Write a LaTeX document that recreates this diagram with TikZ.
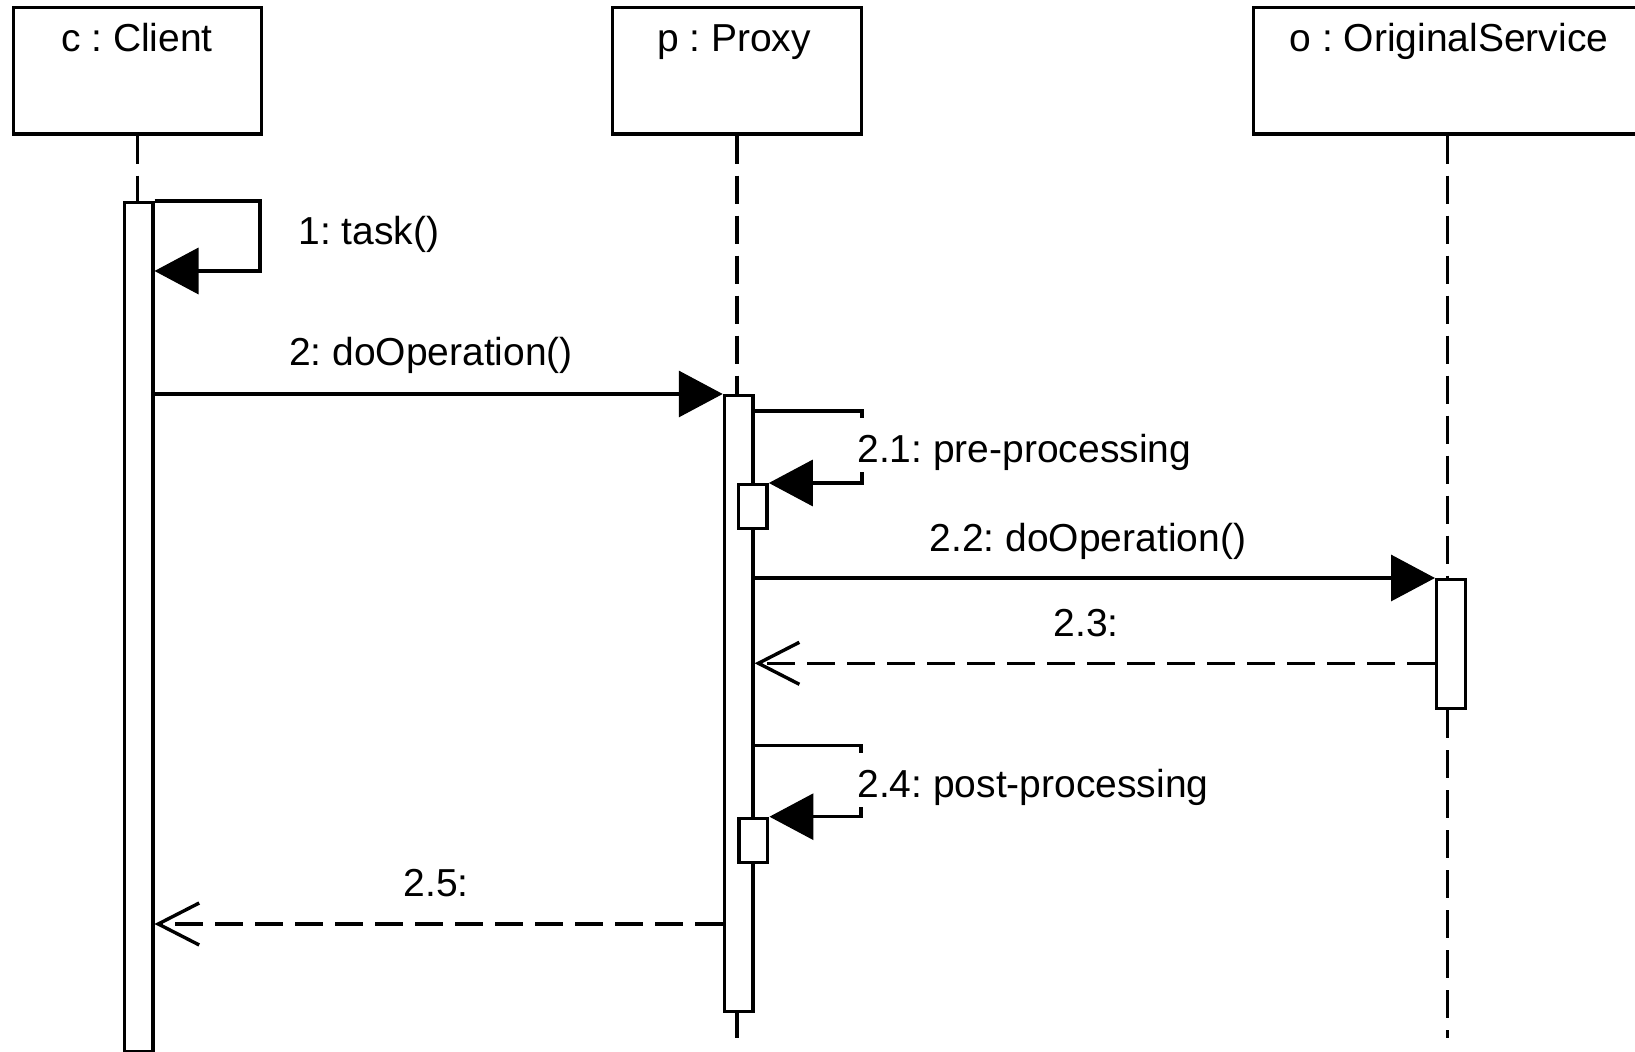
\documentclass[tikz,border=0pt]{standalone}
\usepackage{fontspec}
\setmainfont{Liberation Sans}
\usetikzlibrary{arrows.meta,calc}
\frenchspacing
\begin{document}
\begin{tikzpicture}[x=0.5pt,y=-0.5pt,
  every node/.style={font=\fontsize{19.5}{23}\selectfont},
  headbox/.style={draw,line width=1.7pt,minimum height=63.35pt,inner sep=0pt},
  actbar/.style={draw,fill=white,line width=1.7pt,minimum width=14.3pt,inner sep=0pt,anchor=north},
  lifeline/.style={line width=1.7pt,dash pattern=on 14pt off 6pt},
  call/.style={line width=1.7pt,-{Triangle[length=22pt,width=23pt]}},
  reply/.style={line width=1.7pt,dash pattern=on 14pt off 6pt,-{Straight Barb[length=20.5pt,width=21pt]}},
  msg/.style={inner sep=0pt,anchor=base},
  covered/.style={fill=white,text height=22.5pt,text depth=4.5pt,anchor=base west},
  ]
\useasboundingbox (0,0) rectangle (1635,1052);

% object heads
\node[headbox,minimum width=124pt]   (cl) at (137.4,70.6) {};
\node[headbox,minimum width=124.6pt] (px) at (737,70.6) {};
\node[headbox,minimum width=194.4pt] (os) at (1447.7,70.6) {};
\node[msg] (clt) at (137,52)  {c : Client};
\node[msg] (pxt) at (734,52)  {p : Proxy};
\node[msg] (ost) at (1449,52) {o : OriginalService};

% activation bars
\node[actbar,minimum height=424.5pt] (ca) at (138.5,201) {};
\node[actbar,minimum height=308pt,minimum width=14.25pt] (pa) at (738.7,394) {};
\node[actbar,minimum height=64.5pt] (oa) at (1451,578) {};
\node[actbar,minimum height=22pt,minimum width=14.35pt] (n1) at (752.8,483) {};
\node[actbar,minimum height=22pt,minimum width=14.35pt] (n2) at (753.4,816.7) {};

% turning points and message levels
\coordinate (t1)  at (260,271);
\coordinate (t21) at (862,411);
\coordinate (t24) at (861,745.5);
\coordinate (r23) at (0,663.3);
\coordinate (r25) at (0,924);
\coordinate (lend) at (0,1038);

% lifelines
\draw[lifeline] (cl.south) -- (cl.south |- ca.north);
\draw[lifeline] (px.south) -- (px.south |- pa.north);
\draw[lifeline] (px.south |- pa.south) -- (px.south |- lend);
\draw[lifeline] (os.south) -- (os.south |- oa.north);
\draw[lifeline] (os.south |- oa.south) -- (os.south |- lend);

% messages
\draw[call] (ca.north east) -| (t1) -- (ca.east |- t1);
\draw[call] (ca.east |- pa.north) -- (pa.north west);
\draw[call] (pa.east |- t21) -- (t21) |- (n1.north east);
\draw[call] (pa.east |- oa.north) -- (oa.north west);
\draw[reply] (oa.west |- r23) -- (pa.east |- r23);
\draw[call] (pa.east |- t24) -- (t24) |- (n2.north east);
\draw[reply] (pa.west |- r25) -- (ca.east |- r25);

% message labels
\node[msg,anchor=base west] (l1) at (298,245) {1: task()};
\node[msg] (l2) at (431,366) {2: doOperation()};
\node[msg,covered] (l21) at (857,463) {2.1: pre-processing};
\node[msg] (l22) at (1088,552) {2.2: doOperation()};
\node[msg] (l23) at (1086,637) {2.3:};
\node[msg,covered] (l24) at (857,798) {2.4: post-processing};
\node[msg] (l25) at (436,897) {2.5:};
\end{tikzpicture}
\end{document}
